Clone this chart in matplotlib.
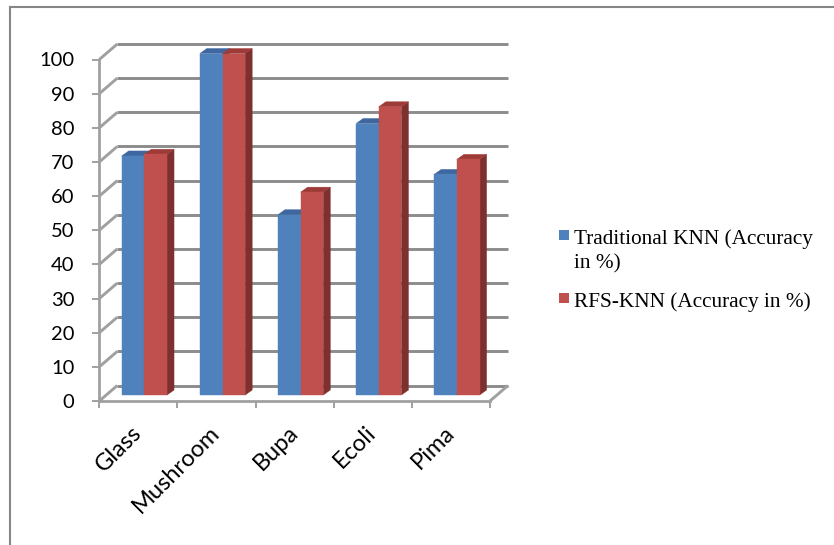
import numpy as np
import matplotlib
matplotlib.use("Agg")
import matplotlib.pyplot as plt
from matplotlib.patches import Polygon, Rectangle
from matplotlib.lines import Line2D
from matplotlib.transforms import IdentityTransform

# ---- data ----
categories = ["Glass", "Mushroom", "Bupa", "Ecoli", "Pima"]
traditional_knn = [70.0, 100.0, 52.8, 79.5, 64.6]
rfs_knn = [70.5, 100.0, 59.4, 84.4, 69.0]
series_names = ["Traditional KNN (Accuracy in %)", "RFS-KNN (Accuracy in %)"]
legend_labels = ["Traditional KNN (Accuracy\nin %)", "RFS-KNN (Accuracy in %)"]
y_ticks = list(range(0, 101, 10))

W, H = 834, 545
fig = plt.figure(figsize=(W / 100, H / 100), dpi=100)
fig.patch.set_facecolor("white")

def fx(px):
    return px / W

def fy(py):
    return 1 - py / H

ax = fig.add_axes([fx(99.3), fy(401), (490 - 99.3) / W, (401 - 59.5) / H])
ax.set_xlim(-0.5, len(categories) - 0.5)
ax.set_ylim(0, 100)
ax.patch.set_visible(False)
for s in ["top", "right"]:
    ax.spines[s].set_visible(False)
axis_col = "#a0a0a0"
grid_col = "#8c8c8c"
for s in ["left", "bottom"]:
    ax.spines[s].set_color(axis_col)
    ax.spines[s].set_linewidth(2.0)

ax.set_yticks(y_ticks)
ax.set_yticklabels([str(t) for t in y_ticks], fontsize=14.5, family="Lato")
ax.tick_params(axis="y", direction="out", length=5, width=1.4, color=axis_col, pad=13)
ax.set_xticks(np.arange(-0.5, len(categories), 1.0))
ax.set_xticklabels([])
ax.tick_params(axis="x", which="major", direction="out", length=5, width=1.4, color=axis_col)
ax.set_xticks(np.arange(len(categories)), minor=True)
ax.set_xticklabels(categories, minor=True, rotation=45, ha="right", va="center",
                   rotation_mode="anchor", fontsize=17, family="Lato")
ax.tick_params(axis="x", which="minor", length=0, pad=20.5)

# 3D projection helpers (pixel offsets)
WALL = np.array([18.0, 15.5])    # depth of the back wall
BOFF = np.array([6.0, 6.0])      # bar front offset
BDEP = np.array([7.0, 5.0])      # bar depth

def P(x, v, off=(0.0, 0.0)):
    return ax.transData.transform((x, v)) + np.asarray(off)

ident = IdentityTransform()

def line(p0, p1, color=grid_col, lw=2.1, z=1):
    fig.add_artist(Line2D([p0[0], p1[0]], [p0[1], p1[1]], color=color, lw=lw,
                          transform=ident, zorder=z, solid_capstyle="butt"))

def poly(pts, color, z=2):
    fig.add_artist(Polygon(np.array(pts), closed=True, facecolor=color, edgecolor=color,
                           lw=0.3, transform=ident, zorder=z))

x_left, x_right = -0.5, len(categories) - 0.5
# back wall gridlines and left wall diagonals
for t in y_ticks:
    line(P(x_left, t, WALL), P(x_right, t, WALL))
    line(P(x_left, t), P(x_left, t, WALL), color=axis_col)
# floor right diagonal
line(P(x_right, 0), P(x_right, 0, WALL), color=axis_col)

# bars
bw = 0.29
colors = [("#4f81bd", "#3d679e", "#2f5486"), ("#c0504d", "#9e3b38", "#7e302e")]
for i in range(len(categories)):
    for j, vals in enumerate([traditional_knn, rfs_knn]):
        v = vals[i]
        x0 = i - bw + j * bw
        x1 = x0 + bw
        front, top, side = colors[j]
        a = P(x0, 0, BOFF); b = P(x1, 0, BOFF); c = P(x1, v, BOFF); d = P(x0, v, BOFF)
        poly([b, c, c + BDEP, b + BDEP], side, z=2)
        poly([d, c, c + BDEP, d + BDEP], top, z=2)
        poly([a, b, c, d], front, z=2)

# outer frame
fig.add_artist(Line2D([10, 10], [0, H - 7], color="#868686", lw=1.5, transform=ident))
fig.add_artist(Line2D([10, W], [H - 7, H - 7], color="#868686", lw=1.5, transform=ident))

# legend
leg_y = [230, 293]
for j, lab in enumerate(legend_labels):
    fig.add_artist(Rectangle((559, H - leg_y[j] - 10), 10, 10, facecolor=colors[j][0],
                             edgecolor="none", transform=ident))
    fig.text(fx(574), fy(leg_y[j] - 1), lab, family="Liberation Serif", fontsize=15.3,
             va="top", ha="left", linespacing=1.38)

fig.savefig("out.png", dpi=100)
